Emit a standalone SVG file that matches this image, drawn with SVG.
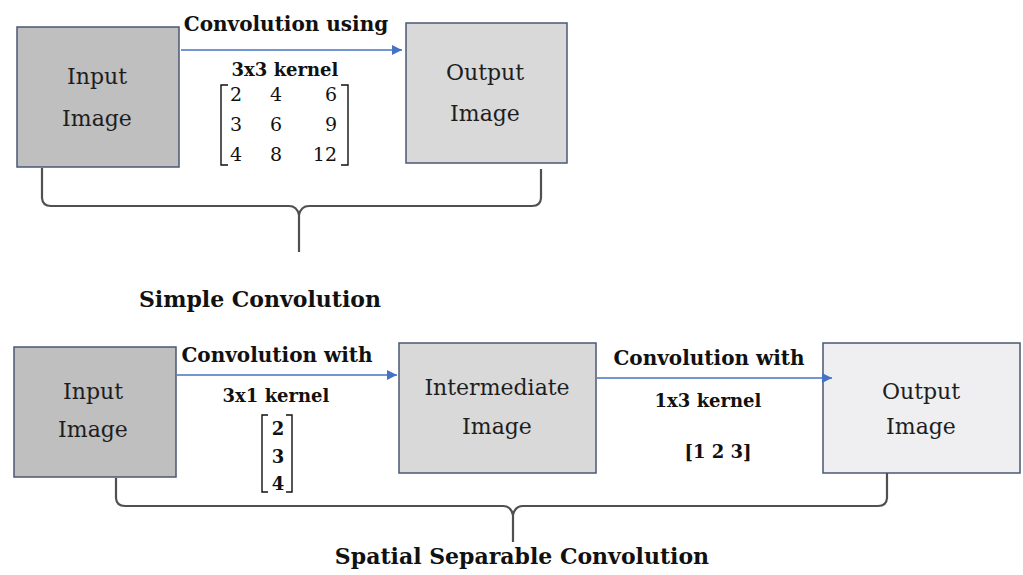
<svg xmlns="http://www.w3.org/2000/svg" width="1023" height="575" viewBox="0 0 1023 575">
<style>
.box{stroke:#4a5874;stroke-width:1.5}
.node{font-family:"DejaVu Serif","Liberation Serif",serif;font-size:22px;fill:#1e1e1e;text-anchor:middle}
.lbl{font-family:"DejaVu Serif","Liberation Serif",serif;font-weight:bold;font-size:20px;fill:#111;text-anchor:middle}
.k{font-family:"DejaVu Serif","Liberation Serif",serif;font-weight:bold;font-size:18px;fill:#111;text-anchor:middle}
.num{font-family:"DejaVu Serif","Liberation Serif",serif;font-size:19px;fill:#111}
.cap{font-family:"DejaVu Serif","Liberation Serif",serif;font-weight:bold;font-size:22px;fill:#111;text-anchor:middle}
.arrow{stroke:#4472c4;stroke-width:1.6;fill:none}
.brace{stroke:#505050;stroke-width:2.2;fill:none}
.brk{stroke:#111;stroke-width:1.4;fill:none}
</style>
<defs>
<marker id="ah" viewBox="0 0 10 10" refX="10" refY="5" markerWidth="11" markerHeight="10" markerUnits="userSpaceOnUse" orient="auto">
<path d="M0,0 L10,5 L0,10 z" fill="#4472c4"/>
</marker>
</defs>
<rect width="1023" height="575" fill="#ffffff"/>

<g id="top-input">
<rect class="box" x="17" y="27" width="162" height="140" fill="#bfbfbf"/>
<text class="node" x="97" y="84">Input</text>
<text class="node" x="97" y="126">Image</text>
</g>
<g id="top-output">
<rect class="box" x="406" y="23" width="161" height="140" fill="#d9d9d9"/>
<text class="node" x="485" y="80">Output</text>
<text class="node" x="485" y="121">Image</text>
</g>

<g id="bottom-input">
<rect class="box" x="14" y="347" width="162" height="130" fill="#bfbfbf"/>
<text class="node" x="93" y="399">Input</text>
<text class="node" x="93" y="437">Image</text>
</g>
<g id="intermediate">
<rect class="box" x="399" y="343" width="197" height="130" fill="#d9d9d9"/>
<text class="node" x="497" y="395">Intermediate</text>
<text class="node" x="497" y="434">Image</text>
</g>
<g id="bottom-output">
<rect class="box" x="823" y="343" width="197" height="130" fill="#efeff1"/>
<text class="node" x="921" y="399">Output</text>
<text class="node" x="921" y="434">Image</text>
</g>

<g id="connectors">
<line class="arrow" x1="181" y1="50" x2="402" y2="50" marker-end="url(#ah)"/>
<line class="arrow" x1="177" y1="375" x2="397" y2="375" marker-end="url(#ah)"/>
<line class="arrow" x1="597" y1="378" x2="832" y2="378" marker-end="url(#ah)"/>
<path class="brace" d="M42,168 L42,198 Q42.5,206 51,206 L289,206 Q297,206 299,215 L299,252 M299,215 Q301,206 309,206 L532,206 Q540.5,206 541,198 L541,169"/>
<path class="brace" d="M116,478 L116,498 Q116.5,506 125,506 L503,506 Q511,506 513,515 L513,542 M513,515 Q515,506 523,506 L878,506 Q886.5,506 887,498 L887,473"/>
</g>

<g id="labels">
<text class="lbl" x="286" y="31">Convolution using</text>
<text class="k" x="285" y="76">3x3 kernel</text>
<path class="brk" d="M228,85 L221,85 L221,165 L228,165"/>
<path class="brk" d="M341,85 L348,85 L348,165 L341,165"/>
<text class="num" x="230" y="101">2</text>
<text class="num" x="276" y="101" text-anchor="middle">4</text>
<text class="num" x="337" y="101" text-anchor="end">6</text>
<text class="num" x="230" y="131">3</text>
<text class="num" x="276" y="131" text-anchor="middle">6</text>
<text class="num" x="337" y="131" text-anchor="end">9</text>
<text class="num" x="230" y="161">4</text>
<text class="num" x="276" y="161" text-anchor="middle">8</text>
<text class="num" x="337" y="161" text-anchor="end">12</text>

<text class="cap" x="260" y="307">Simple Convolution</text>

<text class="lbl" x="277" y="362">Convolution with</text>
<text class="k" x="276" y="402">3x1 kernel</text>
<path class="brk" d="M268,415 L262,415 L262,492 L268,492"/>
<path class="brk" d="M286,415 L292,415 L292,492 L286,492"/>
<text class="k" x="278" y="435">2</text>
<text class="k" x="278" y="463">3</text>
<text class="k" x="278" y="490">4</text>

<text class="lbl" x="709" y="365">Convolution with</text>
<text class="k" x="708" y="407">1x3 kernel</text>
<text class="k" x="718" y="458">[1 2 3]</text>

<text class="cap" x="522" y="564">Spatial Separable Convolution</text>
</g>
</svg>
